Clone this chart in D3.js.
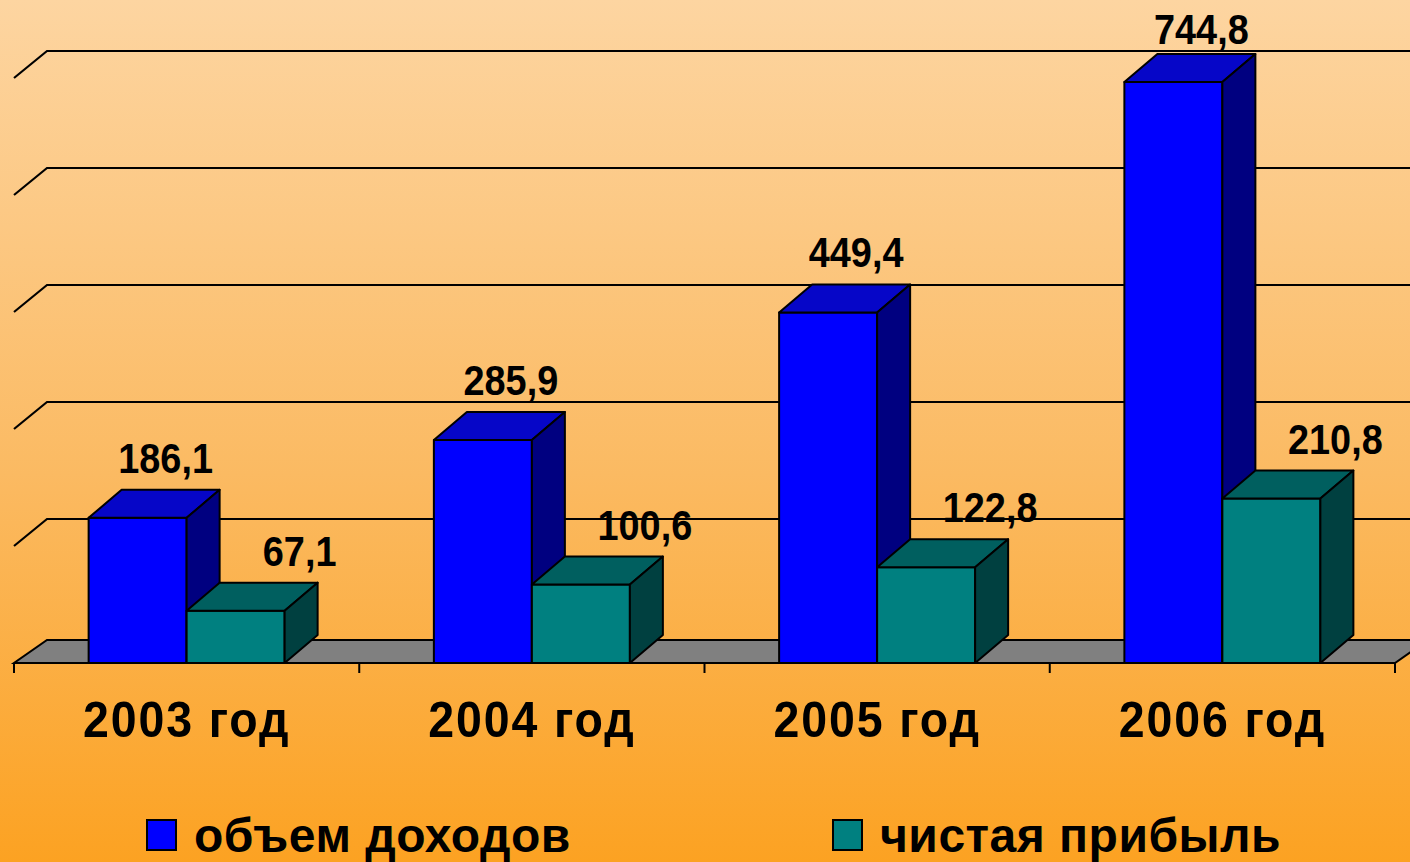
<!DOCTYPE html>
<html><head><meta charset="utf-8">
<script src="https://cdn.jsdelivr.net/npm/d3@7/dist/d3.min.js"></script>
<style>html,body{margin:0;padding:0;overflow:hidden;}svg{display:block;}</style>
</head><body>
<svg id="chart" width="1410" height="862"></svg>
<script>
const categories = ["2003 год", "2004 год", "2005 год", "2006 год"];
const revenue = [186.1, 285.9, 449.4, 744.8];
const profit = [67.1, 100.6, 122.8, 210.8];
const seriesNames = ["объем доходов", "чистая прибыль"];
const yTicks = [150, 300, 450, 600, 750];

const W = 1410, H = 862;
const FONT = "'Liberation Sans', Arial, sans-serif";
const svg = d3.select("#chart");
const defs = svg.append("defs");
const grad = defs.append("linearGradient").attr("id","bg").attr("x1",0).attr("y1",0).attr("x2",0).attr("y2",1);
grad.append("stop").attr("offset","0%").attr("stop-color","#FDD5A1");
grad.append("stop").attr("offset","55%").attr("stop-color","#FBBA62");
grad.append("stop").attr("offset","100%").attr("stop-color","#FCA222");
svg.append("rect").attr("width",W).attr("height",H).attr("fill","url(#bg)");

const x = d3.scaleBand().domain(categories).range([14, 1395]);
const y = d3.scaleLinear().domain([0, 750]).range([663, 78]);
const barW = 98;
const xs = d3.scaleBand().domain([0, 1]).range([-barW, barW]);
const dep = {dx: 33, dy: -28};     // bar depth
const wall = {dx: 33, dy: -27};    // back wall offset
const floorD = {dx: 33, dy: -23};

const series = [
  {name: seriesNames[0], values: revenue, front: "#0000FF", top: "#0606C8", side: "#000080"},
  {name: seriesNames[1], values: profit, front: "#008080", top: "#005F5F", side: "#004040"}
];

const fmt = d3.formatLocale({decimal: ",", thousands: " ", grouping: [3], currency: ["", ""]}).format(".1f");

// gridlines on back wall + left wall diagonals
const g = svg.append("g");
yTicks.forEach(t => {
  const yf = y(t), yb = y(t) + wall.dy;
  g.append("path")
    .attr("d", `M${x.range()[0]},${yf}L${x.range()[0] + wall.dx},${yb}L${W + 10},${yb}`)
    .attr("fill", "none").attr("stroke", "#000").attr("stroke-width", 2.2);
});

// floor
const x0 = x.range()[0], x1 = x.range()[1], yb0 = y(0);
g.append("path")
  .attr("d", `M${x0},${yb0}L${x1},${yb0}L${x1 + floorD.dx},${yb0 + floorD.dy}L${x0 + floorD.dx},${yb0 + floorD.dy}Z`)
  .attr("fill", "#808080").attr("stroke", "#000").attr("stroke-width", 2);

// ticks at band boundaries
const tickXs = categories.map(c => x(c)).concat([x1]);
g.selectAll("line.tick").data(tickXs).join("line")
  .attr("x1", d => d).attr("x2", d => d)
  .attr("y1", yb0).attr("y2", yb0 + 10)
  .attr("stroke", "#000").attr("stroke-width", 2);

// bars
const barsG = svg.append("g").attr("stroke", "#000").attr("stroke-width", 2).attr("stroke-linejoin", "round");
categories.forEach((c, i) => {
  const cx = x(c) + x.bandwidth() / 2;
  series.forEach((s, si) => {
    const v = s.values[i];
    const l = cx + xs(si), r = l + xs.bandwidth();
    const t = y(v), b = y(0);
    barsG.append("path").attr("d", `M${l},${b}L${l},${t}L${r},${t}L${r},${b}Z`).attr("fill", s.front);
    barsG.append("path").attr("d", `M${l},${t}L${l + dep.dx},${t + dep.dy}L${r + dep.dx},${t + dep.dy}L${r},${t}Z`).attr("fill", s.top);
    barsG.append("path").attr("d", `M${r},${t}L${r + dep.dx},${t + dep.dy}L${r + dep.dx},${b + dep.dy}L${r},${b}Z`).attr("fill", s.side);
  });
});

// value labels (slightly condensed bold)
const labG = svg.append("g").attr("font-family", FONT)
  .attr("font-weight", "bold").attr("font-size", 43).attr("fill", "#000").attr("text-anchor", "middle");
const labelShift = [28, 64];
categories.forEach((c, i) => {
  const cx = x(c) + x.bandwidth() / 2;
  series.forEach((s, si) => {
    const v = s.values[i];
    const l = cx + xs(si);
    const lx = l + xs.bandwidth() / 2 + labelShift[si];
    const ly = Math.max(44, y(v) + dep.dy - 17);
    labG.append("text").attr("transform", `translate(${lx},${ly}) scale(0.88,1)`).text(fmt(v));
  });
});

// category labels
svg.append("g").selectAll("text").data(categories).join("text")
  .attr("transform", d => `translate(${x(d) + x.bandwidth() / 2},737) scale(0.93,1)`)
  .attr("text-anchor", "middle")
  .attr("font-family", FONT)
  .attr("font-weight", "bold").attr("font-size", 50).attr("letter-spacing", 2)
  .text(d => d);

// legend
const legX = [147, 833];
const leg = svg.append("g");
series.forEach((s, si) => {
  leg.append("rect").attr("x", legX[si]).attr("y", 820).attr("width", 29).attr("height", 30)
    .attr("fill", s.front).attr("stroke", "#000").attr("stroke-width", 2);
  leg.append("text").attr("x", legX[si] + 47).attr("y", 852)
    .attr("font-family", FONT)
    .attr("font-weight", "bold").attr("font-size", 48).attr("letter-spacing", 0.5)
    .text(s.name);
});
</script>
</body></html>
